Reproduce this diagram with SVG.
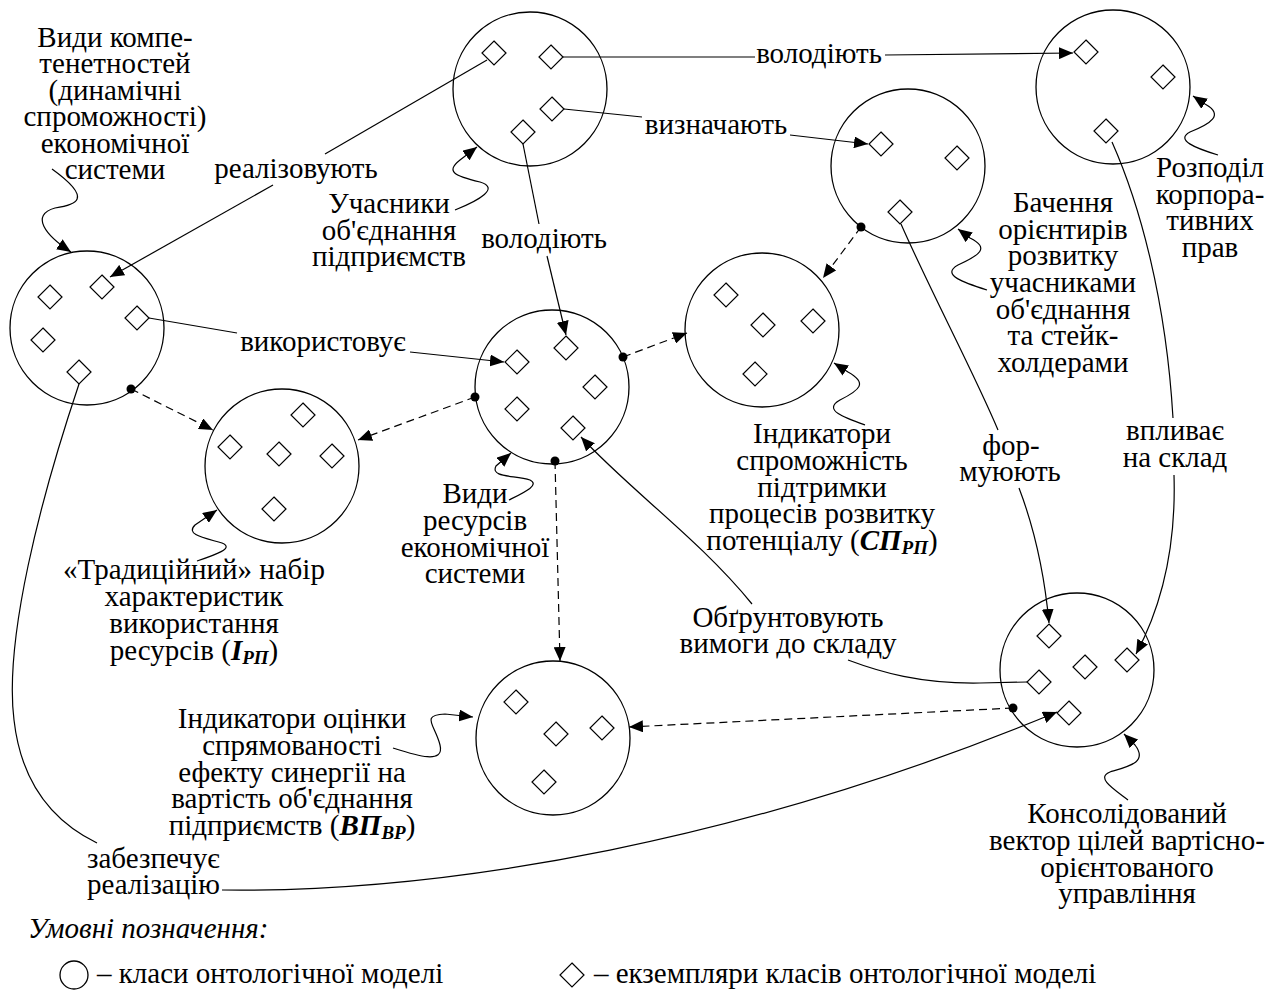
<svg xmlns="http://www.w3.org/2000/svg" width="1286" height="990" viewBox="0 0 1286 990">
<defs>
<marker id="a" markerUnits="userSpaceOnUse" markerWidth="16" markerHeight="12" refX="14" refY="6" orient="auto"><path d="M0,0 L14,6 L0,12 z" fill="#000"/></marker>
<path id="dm" d="M0,-12 L12,0 L0,12 L-12,0 z" fill="#fff" stroke="#000" stroke-width="1.2"/>
</defs>
<rect width="1286" height="990" fill="#fff"/>

<g id="circles" fill="none" stroke="#000" stroke-width="1.3">
<circle cx="530" cy="89" r="77"/>
<circle cx="87" cy="328" r="77"/>
<circle cx="1113" cy="87" r="77"/>
<circle cx="908" cy="166" r="77"/>
<circle cx="762" cy="330" r="77"/>
<circle cx="552" cy="387" r="77"/>
<circle cx="282" cy="466" r="77"/>
<circle cx="553" cy="738" r="77"/>
<circle cx="1077" cy="670" r="77"/>
</g>

<g id="connectors" fill="none" stroke="#000" stroke-width="1.2">
<path d="M487,60 L325,154"/>
<path d="M273,185 L110,277" marker-end="url(#a)"/>
<path d="M563,57 L755,57"/>
<path d="M885,55 L1073,53" marker-end="url(#a)"/>
<path d="M564,109 L642,117"/>
<path d="M790,135 L868,144" marker-end="url(#a)"/>
<path d="M523,144 L539,224"/>
<path d="M547,256 L566,335" marker-end="url(#a)"/>
<path d="M149,318 L237,333"/>
<path d="M410,352 L504,362" marker-end="url(#a)"/>
<path d="M901,224 C 930,290 975,375 998,430"/>
<path d="M1019,488 C 1035,530 1045,580 1049,623" marker-end="url(#a)"/>
<path d="M1112,142 C 1140,205 1166,300 1173,418"/>
<path d="M1174,475 C 1176,540 1165,600 1136,654" marker-end="url(#a)"/>
<path d="M752,604 C 700,540 630,490 581,437" marker-end="url(#a)"/>
<path d="M848,660 C 880,672 920,684 980,683 L1027,682"/>
<path d="M79,384 C 40,500 4,640 14,720 C 22,790 60,825 97,843"/>
<path d="M222,890 C 450,893 750,840 1057,712" marker-end="url(#a)"/>
<g stroke-dasharray="8 5">
<path d="M131,389 L213,430" marker-end="url(#a)"/>
<path d="M475,397 L358,440" marker-end="url(#a)"/>
<path d="M623,357 L687,333" marker-end="url(#a)"/>
<path d="M555,461 L560,661" marker-end="url(#a)"/>
<path d="M861,227 L823,278" marker-end="url(#a)"/>
<path d="M1013,708 L629,727" marker-end="url(#a)"/>
</g>
<g fill="#000" stroke="none">
<circle cx="131" cy="389" r="4.5"/>
<circle cx="475" cy="397" r="4.5"/>
<circle cx="623" cy="357" r="4.5"/>
<circle cx="555" cy="461" r="4.5"/>
<circle cx="861" cy="227" r="4.5"/>
<circle cx="1013" cy="708" r="4.5"/>
</g>
<path d="M52,169 C 95,200 75,205 55,208 C 30,215 45,235 71,252" marker-end="url(#a)"/>
<path d="M455,210 C 480,200 500,188 480,182 C 455,176 445,172 460,160 L477,147" marker-end="url(#a)"/>
<path d="M1218,155 C 1195,148 1175,140 1190,132 C 1210,124 1225,115 1205,104 L1193,96" marker-end="url(#a)"/>
<path d="M987,290 C 965,283 940,275 958,265 C 980,255 990,248 970,238 L958,229" marker-end="url(#a)"/>
<path d="M865,425 C 845,418 822,410 840,400 C 860,390 868,383 848,372 L834,363" marker-end="url(#a)"/>
<path d="M509,500 C 525,492 540,485 530,480 C 515,475 490,478 496,466 L511,453" marker-end="url(#a)"/>
<path d="M197,561 C 215,555 235,548 222,543 C 205,538 185,535 195,525 L217,510" marker-end="url(#a)"/>
<path d="M393,748 C 415,755 445,765 440,745 C 435,725 420,715 445,714 L473,717" marker-end="url(#a)"/>
<path d="M1128,800 C 1115,790 1095,778 1110,772 C 1130,766 1148,762 1135,745 L1124,734" marker-end="url(#a)"/>
</g>

<g id="n-uchasnyky">
<use href="#dm" x="494" y="53"/><use href="#dm" x="551" y="57"/><use href="#dm" x="552" y="109"/><use href="#dm" x="523" y="132"/>
<text text-anchor="middle" font-family="Liberation Serif" font-size="29"><tspan x="389" y="213">Учасники</tspan><tspan x="389" y="240">об'єднання</tspan><tspan x="389" y="266">підприємств</tspan></text>
</g>
<g id="n-kompetentnosti">
<use href="#dm" x="102" y="287"/><use href="#dm" x="50" y="297"/><use href="#dm" x="137" y="318"/><use href="#dm" x="43" y="340"/><use href="#dm" x="79" y="372"/>
<text text-anchor="middle" font-family="Liberation Serif" font-size="29"><tspan x="115" y="47">Види компе-</tspan><tspan x="115" y="73.4">тенетностей</tspan><tspan x="115" y="99.8">(динамічні</tspan><tspan x="115" y="126.2">спроможності)</tspan><tspan x="115" y="152.6">економічної</tspan><tspan x="115" y="179">системи</tspan></text>
</g>
<g id="n-rozpodil">
<use href="#dm" x="1086" y="52"/><use href="#dm" x="1163" y="77"/><use href="#dm" x="1106" y="131"/>
<text text-anchor="middle" font-family="Liberation Serif" font-size="29"><tspan x="1210" y="177">Розподіл</tspan><tspan x="1210" y="203.5">корпора-</tspan><tspan x="1210" y="230">тивних</tspan><tspan x="1210" y="256.5">прав</tspan></text>
</g>
<g id="n-bachennia">
<use href="#dm" x="881" y="144"/><use href="#dm" x="957" y="158"/><use href="#dm" x="900" y="212"/>
<text text-anchor="middle" font-family="Liberation Serif" font-size="29"><tspan x="1063" y="212">Бачення</tspan><tspan x="1063" y="238.7">орієнтирів</tspan><tspan x="1063" y="265.3">розвитку</tspan><tspan x="1063" y="292">учасниками</tspan><tspan x="1063" y="318.7">об'єднання</tspan><tspan x="1063" y="345.3">та стейк-</tspan><tspan x="1063" y="372">холдерами</tspan></text>
</g>
<g id="n-sp">
<use href="#dm" x="726" y="295"/><use href="#dm" x="763" y="325"/><use href="#dm" x="813" y="321"/><use href="#dm" x="755" y="374"/>
<text text-anchor="middle" font-family="Liberation Serif" font-size="29"><tspan x="822" y="443">Індикатори</tspan><tspan x="822" y="470">спроможність</tspan><tspan x="822" y="497">підтримки</tspan><tspan x="822" y="523">процесів розвитку</tspan><tspan x="822" y="550">потенціалу (<tspan font-weight="bold" font-style="italic">СП</tspan><tspan font-weight="bold" font-style="italic" font-size="19" dy="4">РП</tspan><tspan dy="-4">)</tspan></tspan></text>
</g>
<g id="n-resursy">
<use href="#dm" x="517" y="362"/><use href="#dm" x="566" y="348"/><use href="#dm" x="595" y="387"/><use href="#dm" x="517" y="409"/><use href="#dm" x="573" y="428"/>
<text text-anchor="middle" font-family="Liberation Serif" font-size="29"><tspan x="475" y="503">Види</tspan><tspan x="475" y="530">ресурсів</tspan><tspan x="475" y="557">економічної</tspan><tspan x="475" y="583">системи</tspan></text>
</g>
<g id="n-tradytsiinyi">
<use href="#dm" x="303" y="415"/><use href="#dm" x="230" y="447"/><use href="#dm" x="279" y="454"/><use href="#dm" x="332" y="456"/><use href="#dm" x="274" y="509"/>
<text text-anchor="middle" font-family="Liberation Serif" font-size="29"><tspan x="194" y="579">«Традиційний» набір</tspan><tspan x="194" y="606">характеристик</tspan><tspan x="194" y="633">використання</tspan><tspan x="194" y="660">ресурсів (<tspan font-weight="bold" font-style="italic">I</tspan><tspan font-weight="bold" font-style="italic" font-size="19" dy="4">РП</tspan><tspan dy="-4">)</tspan></tspan></text>
</g>
<g id="n-otsinka">
<use href="#dm" x="516" y="702"/><use href="#dm" x="556" y="734"/><use href="#dm" x="602" y="728"/><use href="#dm" x="544" y="782"/>
<text text-anchor="middle" font-family="Liberation Serif" font-size="29"><tspan x="292" y="728">Індикатори оцінки</tspan><tspan x="292" y="755">спрямованості</tspan><tspan x="292" y="782">ефекту синергії на</tspan><tspan x="292" y="808">вартість об'єднання</tspan><tspan x="292" y="835">підприємств (<tspan font-weight="bold" font-style="italic">ВП</tspan><tspan font-weight="bold" font-style="italic" font-size="19" dy="4">ВР</tspan><tspan dy="-4">)</tspan></tspan></text>
</g>
<g id="n-konsolidovanyi">
<use href="#dm" x="1049" y="636"/><use href="#dm" x="1085" y="667"/><use href="#dm" x="1127" y="660"/><use href="#dm" x="1039" y="682"/><use href="#dm" x="1069" y="713"/>
<text text-anchor="middle" font-family="Liberation Serif" font-size="29"><tspan x="1127" y="823">Консолідований</tspan><tspan x="1127" y="850">вектор цілей вартісно-</tspan><tspan x="1127" y="877">орієнтованого</tspan><tspan x="1127" y="903">управління</tspan></text>
</g>

<g id="link-labels">
<text text-anchor="middle" font-family="Liberation Serif" font-size="29" x="296" y="178">реалізовують</text>
<text text-anchor="middle" font-family="Liberation Serif" font-size="29" x="819" y="63">володіють</text>
<text text-anchor="middle" font-family="Liberation Serif" font-size="29" x="716" y="134">визначають</text>
<text text-anchor="middle" font-family="Liberation Serif" font-size="29" x="544" y="248">володіють</text>
<text text-anchor="middle" font-family="Liberation Serif" font-size="29" x="323" y="351">використовує</text>
<text text-anchor="middle" font-family="Liberation Serif" font-size="29"><tspan x="1011" y="455">фор-</tspan><tspan x="1010" y="481">муюють</tspan></text>
<text text-anchor="middle" font-family="Liberation Serif" font-size="29"><tspan x="1175" y="440">впливає</tspan><tspan x="1175" y="467">на склад</tspan></text>
<text text-anchor="middle" font-family="Liberation Serif" font-size="29"><tspan x="788" y="627">Обґрунтовують</tspan><tspan x="788" y="653">вимоги до складу</tspan></text>
<text font-family="Liberation Serif" font-size="29"><tspan x="87" y="868">забезпечує</tspan><tspan x="87" y="894">реалізацію</tspan></text>
</g>

<g id="legend">
<text x="28" y="938" font-family="Liberation Serif" font-size="29" font-style="italic">Умовні позначення:</text>
<circle cx="74" cy="975" r="14" fill="none" stroke="#000" stroke-width="1.3"/>
<text x="97" y="983" font-family="Liberation Serif" font-size="29">– класи онтологічної моделі</text>
<use href="#dm" x="572" y="975"/>
<text x="594" y="983" font-family="Liberation Serif" font-size="29">– екземпляри класів онтологічної моделі</text>
</g>
</svg>
